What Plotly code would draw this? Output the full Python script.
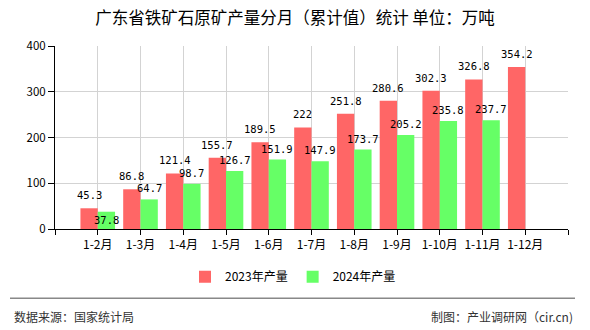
import plotly.graph_objects as go

categories = ["1-2月", "1-3月", "1-4月", "1-5月", "1-6月", "1-7月",
              "1-8月", "1-9月", "1-10月", "1-11月", "1-12月"]
values_2023 = [45.3, 86.8, 121.4, 155.7, 189.5, 222, 251.8, 280.6, 302.3, 326.8, 354.2]
values_2024 = [37.8, 64.7, 98.7, 126.7, 151.9, 147.9, 173.7, 205.2, 235.8, 237.7]
name_2023 = "2023年产量"
name_2024 = "2024年产量"
y_ticks = [0, 100, 200, 300, 400]

W, H = 590, 330
L, R, T, B = 55, 22, 46, 101
PW, PH = W - L - R, H - T - B
BARGAP = 0.19
HALF = (1 - BARGAP) / 2 / 2  # half of one bar width in category units

RED = "#FF6666"
GREEN = "#66FF66"
CJK = "Noto Sans CJK SC"
MONO = "DejaVu Sans Mono"


def px_x(p):
    return (p - L) / PW


def px_y(p):
    return (H - B - p) / PH


idx = list(range(len(categories)))

fig = go.Figure()
fig.add_trace(go.Bar(x=idx, y=values_2023, name=name_2023,
                     marker=dict(color=RED, line=dict(width=0))))
fig.add_trace(go.Bar(x=idx[:len(values_2024)], y=values_2024, name=name_2024,
                     marker=dict(color=GREEN, line=dict(width=0))))

annotations = []
for i, v in enumerate(values_2023):
    annotations.append(dict(x=i - HALF, y=v, xref="x", yref="y", text=str(v),
                            showarrow=False, yanchor="middle", yshift=13,
                            font=dict(family=MONO, size=10.5, color="#000")))
for i, v in enumerate(values_2024):
    shift = -8 if i == 0 else 11
    annotations.append(dict(x=i + HALF, y=v, xref="x", yref="y", text=str(v),
                            showarrow=False, yanchor="middle", yshift=shift,
                            font=dict(family=MONO, size=10.5, color="#000")))

annotations.append(dict(x=px_x(12), y=px_y(316.7), xref="paper", yref="paper",
                        text="数据来源：国家统计局", showarrow=False,
                        xanchor="left", yanchor="middle",
                        font=dict(family=CJK, size=12, color="#333")))
annotations.append(dict(x=px_x(575), y=px_y(316.7), xref="paper", yref="paper",
                        text="制图：产业调研网（cir.cn)", showarrow=False,
                        xanchor="right", yanchor="middle",
                        font=dict(family=CJK, size=12, color="#333")))

fig.update_layout(
    width=W, height=H,
    margin=dict(l=L, r=R, t=T, b=B, pad=0, autoexpand=False),
    paper_bgcolor="white", plot_bgcolor="white",
    barmode="group", bargap=BARGAP, bargroupgap=0,
    title=dict(text="广东省铁矿石原矿产量分月（累计值）统计 单位：万吨",
               x=0.5, xref="container", xanchor="center",
               y=1 - 18.5 / H, yref="container", yanchor="middle",
               font=dict(family=CJK, size=16.5, color="#000")),
    showlegend=True,
    legend=dict(orientation="h", x=px_x(293), xanchor="center", xref="paper",
                y=px_y(276.7), yanchor="middle", yref="paper",
                font=dict(family=CJK, size=12, color="#000"),
                itemwidth=30, tracegroupgap=0),
    annotations=annotations,
    shapes=[dict(type="line", xref="paper", yref="paper",
                 x0=px_x(10), x1=px_x(575), y0=px_y(298.3), y1=px_y(298.3),
                 line=dict(color="#888", width=1.5))],
    font=dict(family=CJK, size=12, color="#000"),
)

fig.update_xaxes(
    range=[-1, len(categories)],
    tickmode="array",
    tickvals=list(range(-1, len(categories) + 1)),
    ticktext=[""] + categories + [""],
    tickangle=0,
    ticks="outside", ticklen=5, tickcolor="#000",
    showline=True, linecolor="#000", linewidth=1,
    showgrid=True, gridcolor="#d3d3d3", gridwidth=1,
    zeroline=False, fixedrange=True,
    tickfont=dict(family=CJK, size=12, color="#000"),
)
fig.update_yaxes(
    range=[0, 400],
    tickmode="array", tickvals=y_ticks,
    ticks="outside", ticklen=6, tickcolor="#000",
    showline=True, linecolor="#000", linewidth=1,
    showgrid=True, gridcolor="#d3d3d3", gridwidth=1,
    zeroline=False, fixedrange=True,
    tickfont=dict(family=CJK, size=11.5, color="#000"),
)

fig.write_html("out.html")
